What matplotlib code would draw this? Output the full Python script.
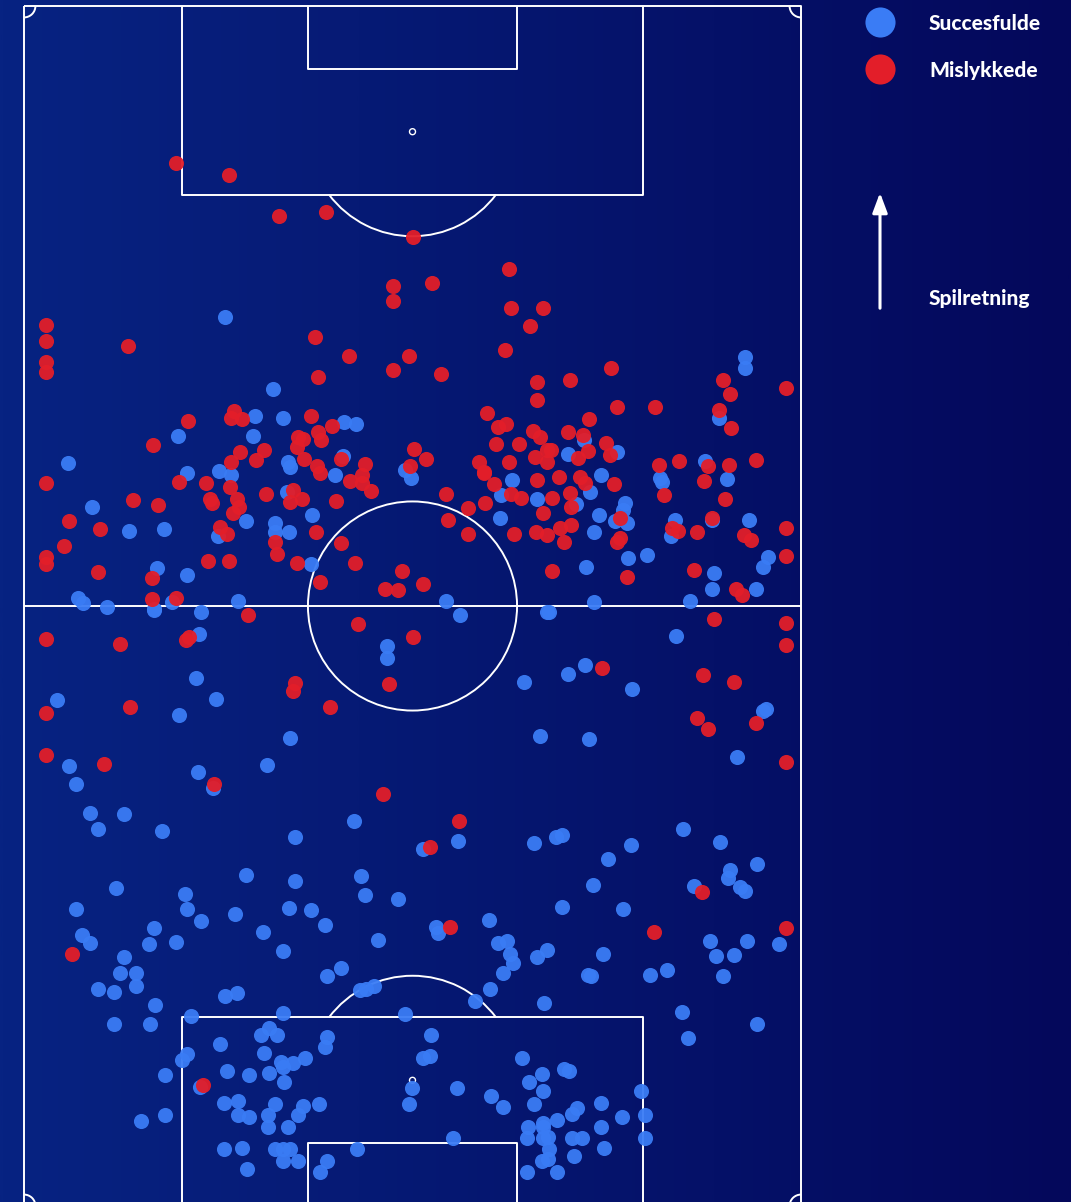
import numpy as np
import matplotlib
matplotlib.use("Agg")
import matplotlib.pyplot as plt
from matplotlib.patches import Arc, Circle
from matplotlib.colors import LinearSegmentedColormap

# ---------------- data (pitch positions, image units: x right, y down; attack is upward) -------------
fail_x = [176, 229, 279, 326, 413, 509, 393, 432, 393, 511, 543, 530,
          46, 46, 46, 46, 128, 188, 153, 234, 231, 242, 240, 264, 231, 256,
          315, 349, 409, 393, 441, 318, 505, 537, 537, 487, 498, 506, 533, 540, 496, 519,
          311, 332, 318, 321, 298, 303, 297, 414, 426, 304, 341, 317, 365, 410, 479, 484, 509, 535, 547,
          570, 611, 617, 655, 589, 723, 730, 719, 731, 786, 568, 583, 551, 588, 606, 610, 578, 547,
          659, 679, 708, 729, 756,
          46, 179, 206, 230, 210, 212, 237, 239, 233, 266, 133, 158, 69, 100, 220, 227, 64, 46, 46,
          208, 229, 275, 277, 98, 152, 152, 176, 248,
          320, 362, 350, 362, 371, 293, 302, 290, 336, 316, 341, 297, 355, 320, 402, 385, 398, 423,
          446, 448, 468, 468, 485, 494, 484, 511, 521, 514, 536, 543, 537,
          559, 552, 570, 571, 560, 571, 547, 564, 580, 585, 614, 620, 617, 620, 664, 704, 725,
          672, 678, 697, 712, 744, 751, 786, 786, 552, 627, 694, 736, 742,
          46, 120, 186, 189, 130, 46, 46, 104, 214, 358, 413, 295, 293, 389, 330, 383, 459, 430,
          714, 786, 786, 602, 703, 734, 697, 708, 756, 786, 702, 72, 203, 450, 654, 786]
fail_y = [163, 175, 216, 212, 237, 269, 286, 283, 301, 308, 308, 326,
          325, 341, 362, 372, 346, 421, 445, 411, 418, 419, 452, 450, 462, 460,
          337, 356, 356, 370, 374, 377, 350, 382, 400, 413, 427, 424, 431, 437, 444, 444,
          416, 426, 432, 440, 437, 439, 447, 449, 459, 459, 459, 466, 464, 466, 462, 472, 462, 457, 450,
          380, 368, 407, 407, 419, 380, 394, 410, 428, 388, 432, 435, 450, 451, 443, 455, 458, 462,
          465, 461, 466, 465, 460,
          483, 482, 483, 487, 499, 503, 499, 507, 513, 494, 500, 505, 521, 529, 527, 534, 546, 557, 564,
          561, 561, 542, 554, 572, 578, 599, 598, 615,
          473, 475, 481, 483, 491, 490, 499, 502, 501, 532, 543, 563, 563, 582, 571, 589, 590, 584,
          494, 520, 508, 534, 503, 484, 473, 494, 498, 534, 532, 513, 480,
          477, 498, 493, 507, 528, 525, 535, 542, 477, 483, 484, 518, 542, 538, 495, 481, 499,
          528, 531, 532, 518, 535, 540, 528, 556, 571, 577, 570, 589, 595,
          639, 644, 640, 637, 707, 713, 755, 764, 784, 624, 637, 683, 691, 684, 707, 794, 821, 847,
          619, 623, 645, 668, 675, 682, 718, 729, 723, 762, 892, 954, 1085, 927, 932, 928]

succ_x = [225, 273, 255, 283, 178, 253, 68, 187, 219, 288,
          344, 356, 343, 745, 745, 719, 568, 584, 617, 705,
          231, 92, 129, 164, 246, 275, 275, 289, 287, 218, 157, 187, 78, 83, 107, 154, 172, 201, 238,
          290, 335, 411, 405, 312, 311, 501, 512, 500, 537, 446, 460, 547,
          601, 590, 576, 625, 623, 615, 627, 599, 594, 660, 662, 727, 675, 671, 712, 749,
          628, 647, 586, 768, 763, 714, 712, 756, 690, 594, 549,
          154, 199, 196, 216, 179, 57, 69, 76, 90, 98, 124, 162, 198, 213, 267, 290, 246, 116, 185,
          387, 387, 524, 540, 354, 295, 423, 458, 534, 295, 361, 365, 398,
          676, 585, 568, 632, 589, 766, 763, 737, 683, 720, 562, 556, 631, 608, 593, 757, 730, 728,
          694, 740, 745,
          76, 187, 201, 235, 263, 283, 289, 154, 149, 176, 82, 90, 124, 120, 136, 136, 98, 114, 155,
          114, 150, 225, 237, 283, 191, 220, 269, 261, 277, 264, 187, 182, 281, 283, 227, 249, 269,
          284, 165, 200, 224, 238, 275, 238, 249, 268, 268, 288, 165, 141, 224, 242, 275, 283, 283, 247,
          311, 325, 378, 327, 341, 360, 366, 374, 405, 436, 438, 489, 498, 507, 510, 513, 503, 490,
          475, 537, 547, 544, 431, 423, 430, 522, 412, 409, 457, 491, 503, 529, 542, 543, 534, 528,
          543, 527, 543, 527, 542, 453, 357, 327, 320, 327, 325, 305, 293, 319, 303, 298, 290, 298,
          562, 623, 710, 747, 779, 716, 734, 723, 603, 588, 591, 650, 667, 682, 757, 688, 564, 569,
          601, 641, 577, 572, 557, 543, 622, 645, 601, 548, 572, 582, 645, 604, 549, 548, 574, 557]
succ_y = [317, 389, 416, 418, 436, 436, 463, 473, 471, 462,
          422, 424, 456, 357, 368, 418, 454, 440, 452, 461,
          475, 507, 531, 529, 521, 523, 532, 532, 492, 536, 568, 575, 598, 603, 607, 609, 602, 612, 601,
          467, 475, 478, 470, 515, 564, 495, 480, 518, 499, 601, 615, 612,
          475, 492, 504, 503, 510, 521, 523, 515, 532, 478, 482, 479, 520, 536, 520, 520,
          558, 555, 567, 557, 567, 573, 589, 589, 601, 602, 612,
          610, 634, 678, 699, 715, 700, 766, 784, 813, 829, 814, 831, 772, 788, 765, 738, 875, 888, 894,
          646, 658, 682, 736, 821, 837, 849, 841, 843, 881, 876, 895, 899,
          636, 665, 674, 689, 739, 709, 711, 757, 829, 842, 835, 837, 845, 859, 885, 864, 870, 878,
          886, 887, 891,
          909, 909, 921, 914, 932, 951, 908, 928, 944, 942, 935, 943, 957, 973, 973, 986, 989, 992, 1005,
          1024, 1024, 996, 993, 1013, 1016, 1044, 1028, 1035, 1035, 1053, 1054, 1060, 1062, 1067, 1071, 1075, 1073,
          1082, 1075, 1087, 1103, 1101, 1104, 1115, 1117, 1115, 1127, 1127, 1115, 1121, 1149, 1148, 1149, 1149, 1161, 1169,
          910, 925, 940, 976, 968, 990, 989, 986, 1014, 927, 933, 920, 943, 941, 954, 963, 973, 989,
          1001, 957, 950, 1003, 1035, 1058, 1056, 1058, 1088, 1104, 1088, 1096, 1107, 1082, 1074, 1091, 1104, 1127,
          1127, 1138, 1138, 1172, 1161, 1138, 1149, 1161, 1172, 1037, 1047, 1058, 1063, 1104, 1106, 1115, 1149, 1161,
          907, 909, 941, 941, 944, 956, 955, 976, 954, 975, 976, 975, 970, 1012, 1024, 1038, 1069, 1071,
          1103, 1091, 1108, 1114, 1120, 1123, 1117, 1115, 1127, 1137, 1138, 1138, 1138, 1148, 1149, 1159, 1156, 1172]

legend_labels = ["Succesfulde", "Mislykkede"]
direction_label = "Spilretning"

# ---------------- styling ----------------
BLUE = "#3a7cf5"
RED = "#e31e29"
W, H = 1071, 1202

plt.rcParams['font.family'] = ['Lato', 'DejaVu Sans']

fig = plt.figure(figsize=(W / 100, H / 100), dpi=100)
ax = fig.add_axes([0, 0, 1, 1])
ax.set_xlim(0, W)
ax.set_ylim(H, 0)
ax.axis("off")

# background gradient (left -> right)
cmap = LinearSegmentedColormap.from_list("bg", ["#072382", "#04085b"])
grad = np.linspace(0, 1, 512).reshape(1, -1)
ax.imshow(grad, cmap=cmap, extent=[0, W, H, 0], aspect="auto", zorder=0)

# pitch geometry (image units)
X0, X1, Y0, Y1 = 24, 801, 6, 1206
sc = (X1 - X0) / 68.0
cx = (X0 + X1) / 2
lw = 1.4
lc = "white"

def line(xs, ys):
    ax.plot(xs, ys, color=lc, lw=lw, zorder=1, solid_capstyle="butt")

line([X0, X1, X1, X0, X0], [Y0, Y0, Y1, Y1, Y0])
line([X0, X1], [(Y0 + Y1) / 2] * 2)
ax.add_patch(Circle((cx, (Y0 + Y1) / 2), 9.15 * sc, fill=False, ec=lc, lw=lw, zorder=1))

for gy, d in [(Y0, 1), (Y1, -1)]:
    bw, bd = 40.32 * sc / 2, 16.5 * sc
    line([cx - bw, cx - bw, cx + bw, cx + bw], [gy, gy + d * bd, gy + d * bd, gy])
    sw, sd = 18.32 * sc / 2, 5.5 * sc
    line([cx - sw, cx - sw, cx + sw, cx + sw], [gy, gy + d * sd, gy + d * sd, gy])
    py = gy + d * 11 * sc
    ax.add_patch(Circle((cx, py), 3, fill=False, ec=lc, lw=1.0, zorder=1))
    ang = np.degrees(np.arccos(5.5 / 9.15))
    if d == 1:
        ax.add_patch(Arc((cx, py), 2 * 9.15 * sc, 2 * 9.15 * sc, theta1=90 - ang, theta2=90 + ang,
                         ec=lc, lw=lw, zorder=1))
    else:
        ax.add_patch(Arc((cx, py), 2 * 9.15 * sc, 2 * 9.15 * sc, theta1=270 - ang, theta2=270 + ang,
                         ec=lc, lw=lw, zorder=1))

r = 1.0 * sc
ax.add_patch(Arc((X0, Y0), 2 * r, 2 * r, theta1=0, theta2=90, ec=lc, lw=lw, zorder=1))
ax.add_patch(Arc((X1, Y0), 2 * r, 2 * r, theta1=90, theta2=180, ec=lc, lw=lw, zorder=1))
ax.add_patch(Arc((X0, Y1), 2 * r, 2 * r, theta1=270, theta2=360, ec=lc, lw=lw, zorder=1))
ax.add_patch(Arc((X1, Y1), 2 * r, 2 * r, theta1=180, theta2=270, ec=lc, lw=lw, zorder=1))

# points
ax.scatter(succ_x, succ_y, s=118, color=BLUE, alpha=0.95, linewidths=0, zorder=3)
ax.scatter(fail_x, fail_y, s=118, color=RED, alpha=0.95, linewidths=0, zorder=4)

# legend
for i, (lab, col) in enumerate(zip(legend_labels, [BLUE, RED])):
    yy = 22 + i * 47
    ax.scatter([880], [yy], s=470, color=col, linewidths=0, zorder=5)
    ax.text(929, yy + 2, lab, color="white", fontsize=15, fontweight="black",
            va="center", ha="left", zorder=5)

ax.annotate("", xy=(880, 190), xytext=(880, 311),
            arrowprops=dict(arrowstyle="-|>,head_length=1.2,head_width=0.45", color="white", lw=2.2),
            zorder=5)
ax.text(929, 299, direction_label, color="white", fontsize=15, fontweight="black",
        va="center", ha="left", zorder=5)

fig.savefig("out.png", dpi=100)
